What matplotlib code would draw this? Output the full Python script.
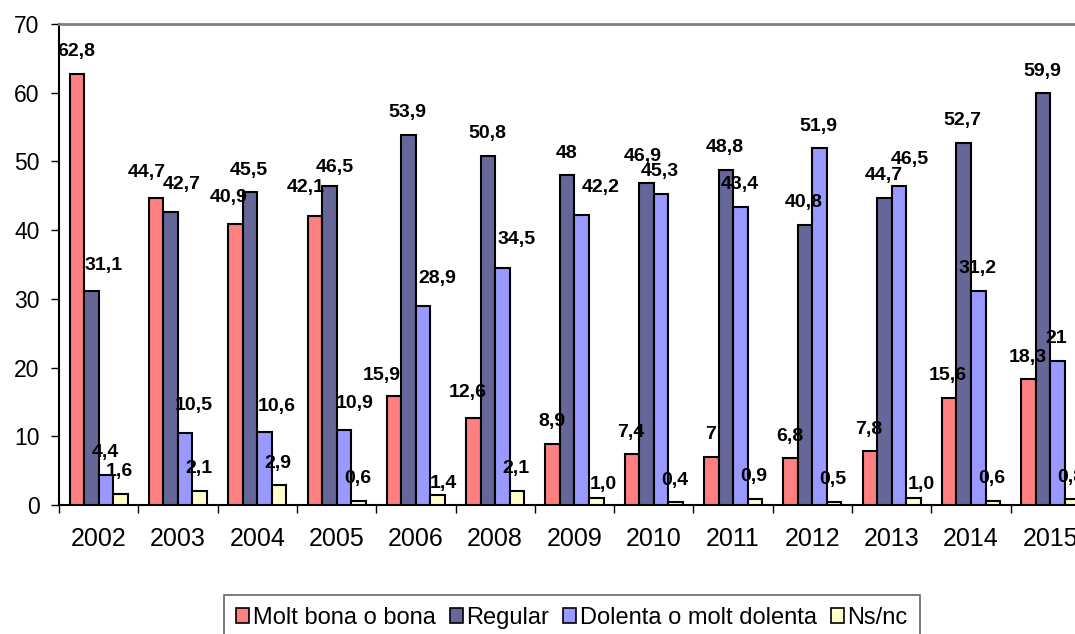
import numpy as np
import matplotlib.pyplot as plt
from matplotlib.patches import Patch

plt.rcParams['font.family'] = ['Liberation Sans', 'DejaVu Sans']

# 数据
years = ['2002', '2003', '2004', '2005', '2006', '2008', '2009',
         '2010', '2011', '2012', '2013', '2014', '2015']
molt_bona = [62.8, 44.7, 40.9, 42.1, 15.9, 12.6, 8.9, 7.4, 7.0, 6.8, 7.8, 15.6, 18.3]
regular = [31.1, 42.7, 45.5, 46.5, 53.9, 50.8, 48.0, 46.9, 48.8, 40.8, 44.7, 52.7, 59.9]
dolenta = [4.4, 10.5, 10.6, 10.9, 28.9, 34.5, 42.2, 45.3, 43.4, 51.9, 46.5, 31.2, 21.0]
nsnc = [1.6, 2.1, 2.9, 0.6, 1.4, 2.1, 1.0, 0.4, 0.9, 0.5, 1.0, 0.6, 0.8]

series_names = ['Molt bona o bona', 'Regular', 'Dolenta o molt dolenta', 'Ns/nc']
series_vals = [molt_bona, regular, dolenta, nsnc]
colors = ['#FF8080', '#666699', '#9999FF', '#FFFFCC']

# 标签偏移 (像素), 其余用默认值
default_off = (-1, 22)
label_off = {
    (0, 1): (-9, 25), (1, 0): (12, 26), (1, 1): (11, 27), (2, 1): (9, 27),
    (0, 2): (-7, 27), (2, 2): (12, 26), (0, 3): (-9, 28), (1, 3): (5, 18),
    (2, 3): (11, 27), (0, 4): (-12, 20), (2, 4): (14, 28), (3, 4): (6, 12),
    (0, 5): (-6, 26), (2, 5): (14, 28), (2, 6): (19, 28), (3, 6): (7, 14),
    (1, 7): (-4, 26), (2, 10): (11, 26), (3, 10): (8, 14),
}


def fmt(v, s):
    if s == 3:
        t = f'{v:.1f}'
    else:
        t = f'{v:g}'
    return t.replace('.', ',')


fig = plt.figure(figsize=(10.75, 6.34), dpi=100)
ax = fig.add_axes([0.0549, 0.2035, 0.959, 0.7585])

x = np.arange(len(years))
w = 0.183
for s, (vals, col) in enumerate(zip(series_vals, colors)):
    pos = x + (s - 1.5) * w
    ax.bar(pos, vals, width=w, color=col, edgecolor='black', linewidth=1.5, zorder=3)
    for i, v in enumerate(vals):
        dx, dy = label_off.get((s, i), default_off)
        ax.annotate(fmt(v, s), (pos[i], v), xytext=(dx, dy),
                    textcoords='offset pixels', ha='center', va='center',
                    fontsize=14, fontweight='bold', color='black', zorder=5)

ax.set_xlim(-0.5, len(years) - 0.5)
ax.set_ylim(0, 70)
ax.set_yticks(np.arange(0, 71, 10))
ax.tick_params(axis='y', labelsize=16.5, length=6, width=1, direction='out', pad=8)

ax.set_xticks(x)
ax.set_xticklabels(years)
ax.set_xticks(np.arange(-0.5, len(years), 1), minor=True)
ax.tick_params(axis='x', which='major', length=0, labelsize=18, pad=16)
ax.tick_params(axis='x', which='minor', length=6, width=1, direction='out')

ax.spines['left'].set_linewidth(1.5)
ax.spines['bottom'].set_linewidth(1.5)
ax.spines['top'].set_color('#808080')
ax.spines['top'].set_linewidth(2)
ax.spines['right'].set_visible(False)

# 图例 (底部被裁切, 同原图)
handles = [Patch(facecolor=c, edgecolor='black', linewidth=1.2) for c in colors]
leg = fig.legend(handles, series_names, loc='upper center',
                 bbox_to_anchor=(0.532, 0.0615), ncol=4, fontsize=17,
                 frameon=True, fancybox=False, edgecolor='#404040',
                 handlelength=0.55, handleheight=0.55, handletextpad=0.15,
                 columnspacing=0.6, borderpad=0.5, borderaxespad=0)
leg.get_frame().set_linewidth(1.2)

fig.savefig('out.png', dpi=100)
